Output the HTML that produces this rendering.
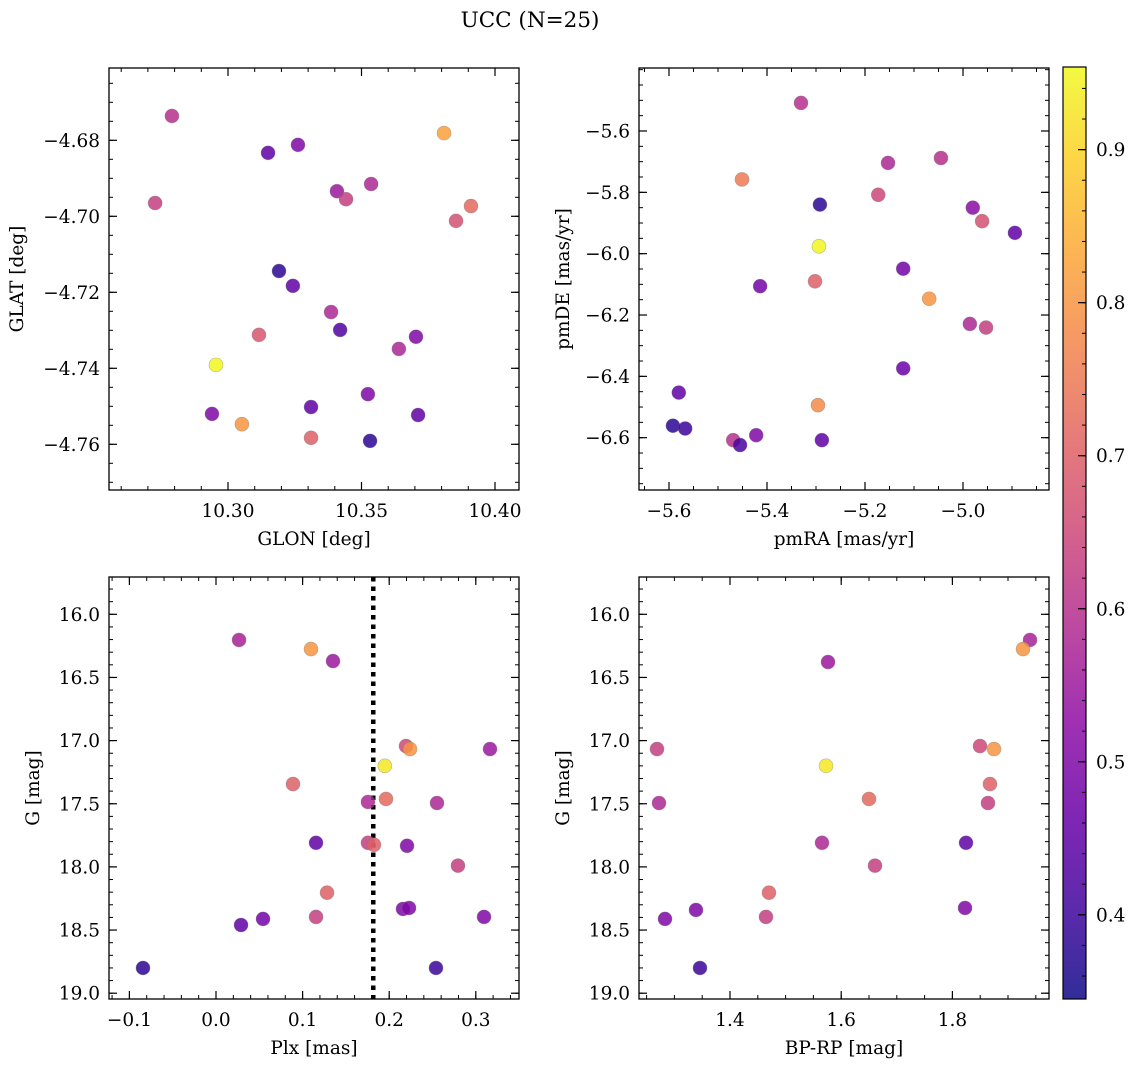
<!DOCTYPE html>
<html><head><meta charset="utf-8">
<style>
html,body{margin:0;padding:0;background:#fff;}
svg{display:block;font-family:"DejaVu Serif","Liberation Serif",serif;}
</style></head>
<body>
<svg id="fig" width="1136" height="1067" viewBox="0 0 1136 1067" xmlns="http://www.w3.org/2000/svg">
<text x="530" y="27" text-anchor="middle" font-size="21.5">UCC (N=25)</text>
</svg>
<script>
// ---- data ----
const tlX=[10.279,10.2727,10.315,10.3262,10.3408,10.3442,10.3536,10.3809,10.391,10.3854,10.3191,10.3243,10.3386,10.3116,10.342,10.3704,10.364,10.2955,10.294,10.3052,10.3311,10.3524,10.3712,10.3311,10.3532];
const tlY=[-4.6736,-4.6965,-4.6833,-4.6812,-4.6934,-4.6955,-4.6915,-4.6781,-4.6973,-4.7012,-4.7144,-4.7183,-4.7252,-4.7312,-4.7299,-4.7317,-4.7349,-4.7391,-4.7520,-4.7547,-4.7502,-4.7468,-4.7523,-4.7583,-4.7591];
const tlC=[0.6,0.63,0.45,0.5,0.55,0.63,0.58,0.82,0.72,0.67,0.38,0.45,0.58,0.68,0.43,0.5,0.58,0.95,0.5,0.8,0.45,0.5,0.45,0.7,0.38];
const trX=[-5.3306,-5.451,-5.153,-5.045,-5.173,-5.292,-4.980,-4.961,-4.894,-5.294,-5.122,-5.414,-5.302,-5.069,-4.986,-4.953,-5.122,-5.580,-5.296,-5.592,-5.567,-5.469,-5.455,-5.422,-5.288];
const trY=[-5.5084,-5.758,-5.704,-5.688,-5.808,-5.840,-5.850,-5.894,-5.932,-5.976,-6.049,-6.106,-6.090,-6.147,-6.229,-6.241,-6.374,-6.453,-6.494,-6.561,-6.570,-6.608,-6.624,-6.592,-6.608];
const trC=[0.6,0.75,0.58,0.6,0.65,0.38,0.52,0.67,0.45,0.95,0.48,0.48,0.7,0.8,0.58,0.63,0.47,0.45,0.78,0.38,0.4,0.6,0.42,0.5,0.45];
const blX=[0.0266,0.1097,0.1351,0.2194,0.224,0.0889,0.195,0.1963,0.1755,0.2552,0.3164,0.1155,0.1755,0.1824,0.2206,0.2794,0.1282,0.0289,0.0543,0.1155,0.2159,0.2229,0.3095,-0.0843,0.254];
const blY=[16.203,16.275,16.37,17.043,17.067,17.344,17.20,17.462,17.486,17.494,17.067,17.809,17.809,17.825,17.833,17.99,18.204,18.46,18.412,18.396,18.333,18.325,18.396,18.80,18.80];
const blC=[0.57,0.8,0.55,0.65,0.8,0.7,0.93,0.72,0.58,0.58,0.55,0.45,0.63,0.7,0.5,0.63,0.7,0.45,0.48,0.63,0.5,0.5,0.5,0.38,0.4];
const brX=[1.9396,1.927,1.5763,1.2687,1.8496,1.8748,1.5727,1.2723,1.65,1.8676,1.864,1.5655,1.8245,1.6608,1.4701,1.4647,1.8227,1.3388,1.2831,1.346];
const brY=[16.203,16.275,16.378,17.067,17.043,17.067,17.20,17.494,17.462,17.344,17.494,17.809,17.809,17.99,18.204,18.396,18.325,18.341,18.412,18.80];
const brC=[0.57,0.8,0.55,0.63,0.65,0.8,0.93,0.58,0.72,0.7,0.63,0.58,0.45,0.63,0.7,0.63,0.5,0.5,0.5,0.4];
const plxLine=[0.1816];
const tlXTicks=[10.30,10.35,10.40], tlYTicks=[-4.68,-4.70,-4.72,-4.74,-4.76];
const trXTicks=[-5.6,-5.4,-5.2,-5.0], trYTicks=[-5.6,-5.8,-6.0,-6.2,-6.4,-6.6];
const blXTicks=[-0.1,0.0,0.1,0.2,0.3], gTicks=[16.0,16.5,17.0,17.5,18.0,18.5,19.0];
const brXTicks=[1.4,1.6,1.8];
const cbTicks=[0.4,0.5,0.6,0.7,0.8,0.9];
const cMin=0.345, cMax=0.954;

const FS=18.5;
const NS="http://www.w3.org/2000/svg";
const svg=document.getElementById('fig');
function mk(tag,attrs,parent){const e=document.createElementNS(NS,tag);for(const k in attrs)e.setAttribute(k,attrs[k]);(parent||svg).appendChild(e);return e;}
const stops=[[0,'#0d0887'],[0.1,'#41049d'],[0.2,'#6a00a8'],[0.3,'#8f0da4'],[0.4,'#b12a90'],[0.5,'#cc4778'],[0.6,'#e16462'],[0.7,'#f2844b'],[0.8,'#fca636'],[0.9,'#fcce25'],[1,'#f0f921']];
function hex(h){return [1,3,5].map(i=>parseInt(h.substr(i,2),16));}
function cmap(v){let t=(v-cMin)/(cMax-cMin);t=Math.max(0,Math.min(1,t));
 for(let i=1;i<stops.length;i++){if(t<=stops[i][0]){const a=hex(stops[i-1][1]),b=hex(stops[i][1]);const f=(t-stops[i-1][0])/(stops[i][0]-stops[i-1][0]);
 return 'rgb('+a.map((x,j)=>Math.round(x+(b[j]-x)*f)).join(',')+')';}}return stops[10][1];}
function fmt(v,d){return (v<0?'\u2212':'')+Math.abs(v).toFixed(d);}

function panel(o){
 const g=mk('g',{});
 
 
 const sx=v=>o.x0+(v-o.xr[0])*o.xs, sy=v=>o.y0+(v-o.yr[0])*o.ys;
 const L=o.left,R=o.right,T=o.top,B=o.bottom;
 const eps=1e-9;
 for(let v=Math.ceil((Math.min(o.xa,o.xb))/o.xm-eps)*o.xm; v<=Math.max(o.xa,o.xb)+eps; v+=o.xm){const p=sx(v);if(p<L||p>R)continue;
  mk('line',{x1:p,x2:p,y1:B,y2:B-4,stroke:'#000','stroke-width':1},g);mk('line',{x1:p,x2:p,y1:T,y2:T+4,stroke:'#000','stroke-width':1},g);}
 for(let v=Math.ceil((Math.min(o.ya,o.yb))/o.ym-eps)*o.ym; v<=Math.max(o.ya,o.yb)+eps; v+=o.ym){const p=sy(v);if(p<T||p>B)continue;
  mk('line',{x1:L,x2:L+4,y1:p,y2:p,stroke:'#000','stroke-width':1},g);mk('line',{x1:R,x2:R-4,y1:p,y2:p,stroke:'#000','stroke-width':1},g);}
 o.xt.forEach(v=>{const p=sx(v);
  mk('line',{x1:p,x2:p,y1:B,y2:B-8,stroke:'#000','stroke-width':1.2},g);mk('line',{x1:p,x2:p,y1:T,y2:T+8,stroke:'#000','stroke-width':1.2},g);
  const t=mk('text',{x:p,y:B+27,'text-anchor':'middle','font-size':FS},g);t.textContent=fmt(v,o.xd);
  
  });
 o.yt.forEach(v=>{const p=sy(v);
  mk('line',{x1:L,x2:L+8,y1:p,y2:p,stroke:'#000','stroke-width':1.2},g);mk('line',{x1:R,x2:R-8,y1:p,y2:p,stroke:'#000','stroke-width':1.2},g);
  const t=mk('text',{x:L-9,y:p+6.5,'text-anchor':'end','font-size':FS},g);t.textContent=fmt(v,o.yd);
  
  });
 if(o.vline){o.vline.forEach(v=>{const l=mk('line',{x1:sx(v),x2:sx(v),y1:T,y2:B,stroke:'#000','stroke-width':4.5,'stroke-dasharray':'4.5 5'},g);
  
  });}
 for(let i=0;i<o.X.length;i++){
  const c=mk('circle',{cx:sx(o.X[i]),cy:sy(o.Y[i]),r:7,fill:cmap(o.C[i]),'fill-opacity':0.85,stroke:'#777','stroke-opacity':0.5,'stroke-width':0.6},g);
  
  }
 const f=mk('rect',{x:L,y:T,width:R-L,height:B-T,fill:'none',stroke:'#000','stroke-width':1.3},g);
 
 
 const xl=mk('text',{x:(L+R)/2,y:B+55,'text-anchor':'middle','font-size':FS},g);xl.textContent=o.xlab;
 
 
 const yx=o.ylx, yy=(T+B)/2;
 const yl=mk('text',{x:yx,y:yy,'text-anchor':'middle','font-size':FS,transform:'rotate(-90 '+yx+' '+yy+')'},g);yl.textContent=o.ylab;
 
 
}
panel({name:'glon-glat-panel',left:109,right:519,top:68,bottom:490,x0:228,xr:[10.30],xs:2670,y0:140.3,yr:[-4.68],ys:-3800,
 xa:10.25,xb:10.41,xm:0.01,ya:-4.78,yb:-4.66,ym:0.005,xt:tlXTicks,yt:tlYTicks,xd:2,yd:2,X:tlX,Y:tlY,C:tlC,xlab:'GLON [deg]',ylab:'GLAT [deg]',ylx:23});
panel({name:'pm-panel',left:639,right:1049,top:68,bottom:490,x0:669,xr:[-5.6],xs:490,y0:131,yr:[-5.6],ys:-316.5*0.969,
 xa:-5.7,xb:-4.8,xm:0.05,ya:-6.75,yb:-5.4,ym:0.05,xt:trXTicks,yt:trYTicks,xd:1,yd:1,X:trX,Y:trY,C:trC,xlab:'pmRA [mas/yr]',ylab:'pmDE [mas/yr]',ylx:569});
panel({name:'plx-g-panel',left:109,right:519,top:577,bottom:999,x0:216,xr:[0],xs:866,y0:614.3,yr:[16.0],ys:126.3,
 xa:-0.14,xb:0.36,xm:0.02,ya:15.6,yb:19.2,ym:0.1,xt:blXTicks,yt:gTicks,xd:1,yd:1,X:blX,Y:blY,C:blC,xlab:'Plx [mas]',ylab:'G [mag]',ylx:39,vline:plxLine});
panel({name:'color-g-panel',left:639,right:1049,top:577,bottom:999,x0:730,xr:[1.4],xs:556,y0:614.3,yr:[16.0],ys:126.3,
 xa:1.2,xb:2.0,xm:0.05,ya:15.6,yb:19.2,ym:0.1,xt:brXTicks,yt:gTicks,xd:1,yd:1,X:brX,Y:brY,C:brC,xlab:'BP-RP [mag]',ylab:'G [mag]',ylx:569});
const defs=mk('defs',{});
const lg=mk('linearGradient',{id:'cbg',x1:0,y1:1,x2:0,y2:0},defs);
stops.forEach(s=>{mk('stop',{offset:s[0],'stop-color':s[1],'stop-opacity':0.85},lg);});
const cb=mk('g',{});


const cT=67,cB=999,cL=1063,cR=1086;
const cy=v=>cB-(v-cMin)/(cMax-cMin)*(cB-cT);
mk('rect',{x:cL,y:cT,width:cR-cL,height:cB-cT,fill:'url(#cbg)'},cb);
for(let v=0.36;v<0.955;v+=0.02){const p=cy(v);mk('line',{x1:cR,x2:cR-4,y1:p,y2:p,stroke:'#000','stroke-width':1},cb);}
cbTicks.forEach(v=>{const p=cy(v);mk('line',{x1:cR,x2:cR-8,y1:p,y2:p,stroke:'#000','stroke-width':1.2},cb);
 const t=mk('text',{x:cR+10,y:p+6.5,'font-size':FS},cb);t.textContent=v.toFixed(1);
 
 });
mk('rect',{x:cL,y:cT,width:cR-cL,height:cB-cT,fill:'none',stroke:'#000','stroke-width':1.2},cb);
</script>
</body></html>
